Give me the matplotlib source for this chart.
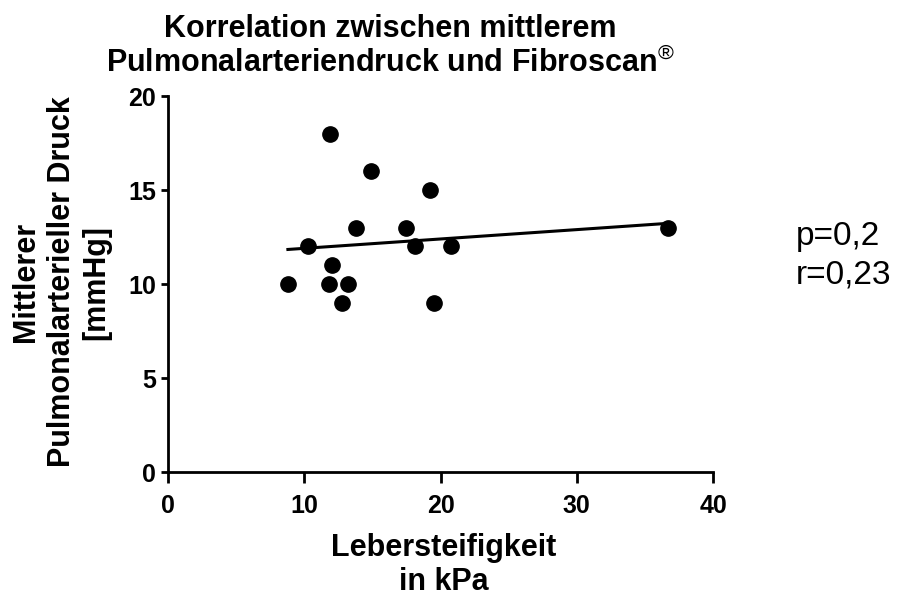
import numpy as np
import matplotlib
matplotlib.use("Agg")
import matplotlib.pyplot as plt

plt.rcParams['font.family'] = ['Liberation Sans', 'DejaVu Sans']
plt.rcParams['mathtext.fontset'] = 'custom'
plt.rcParams['mathtext.rm'] = 'Liberation Sans'
plt.rcParams['mathtext.it'] = 'Liberation Sans'
plt.rcParams['mathtext.bf'] = 'Liberation Sans:bold'

# Liver stiffness (kPa) vs. mean pulmonary arterial pressure (mmHg)
stiffness = [8.8, 10.3, 11.9, 12.0, 11.8, 12.8, 13.2, 13.8, 14.9, 17.5, 18.1, 19.2, 19.5, 20.8, 36.7]
pressure = [10, 12, 18, 11, 10, 9, 10, 13, 16, 13, 12, 15, 9, 12, 13]

x_ticks = [0, 10, 20, 30, 40]
y_ticks = [0, 5, 10, 15, 20]

title_lines = ["Korrelation zwischen mittlerem",
               "Pulmonalarteriendruck und Fibroscan$^{\u00ae}$"]
x_label_lines = ["Lebersteifigkeit", "in kPa"]
y_label_lines = ["Mittlerer", "Pulmonalarterieller Druck", "[mmHg]"]
stats_lines = ["p=0,2", "r=0,23"]

W, H = 898, 598
fig = plt.figure(figsize=(W / 100, H / 100), dpi=100)
ax = fig.add_axes([168 / W, 1 - 472 / H, (713 - 168) / W, (472 - 96) / H])

ax.plot(stiffness, pressure, 'o', color='black', markersize=11, zorder=3, clip_on=False)

# least-squares regression line across the measured range
xs = np.array(stiffness)
slope, intercept = np.polyfit(xs, np.array(pressure), 1)
xl = np.array([xs.min(), xs.max()])
ax.plot(xl, slope * xl + intercept, color='black', linewidth=2.2, zorder=2)

ax.set_xlim(0, 40)
ax.set_ylim(0, 20)
ax.set_xticks(x_ticks)
ax.set_yticks(y_ticks)
for s in ['top', 'right']:
    ax.spines[s].set_visible(False)
for s in ['left', 'bottom']:
    ax.spines[s].set_linewidth(2)
ax.tick_params(axis='x', direction='out', length=8, width=2, labelsize=18, pad=7.5)
ax.tick_params(axis='y', direction='out', length=5, width=2, labelsize=18, pad=3.5)
for lab in ax.get_xticklabels() + ax.get_yticklabels():
    lab.set_fontweight('bold')


def px(x, y):
    return x / W, 1 - y / H


# title, two lines
for line, base in zip(title_lines, [37, 72]):
    fig.text(*px(390, base), line, ha='center', va='baseline',
             fontsize=22, fontweight='bold')

# x-axis label
for line, base in zip(x_label_lines, [556, 590]):
    fig.text(*px(444, base), line, ha='center', va='baseline',
             fontsize=22, fontweight='bold')

# y-axis label, rotated lines
for line, base in zip(y_label_lines, [34, 70, 104]):
    fig.text(*px(base, 282), line, ha='center', va='baseline', rotation=90,
             rotation_mode='anchor', fontsize=22, fontweight='bold')

# statistics
for line, base in zip(stats_lines, [245, 283]):
    fig.text(*px(796, base), line, ha='left', va='baseline', fontsize=24)

fig.savefig("out.png", dpi=100)
